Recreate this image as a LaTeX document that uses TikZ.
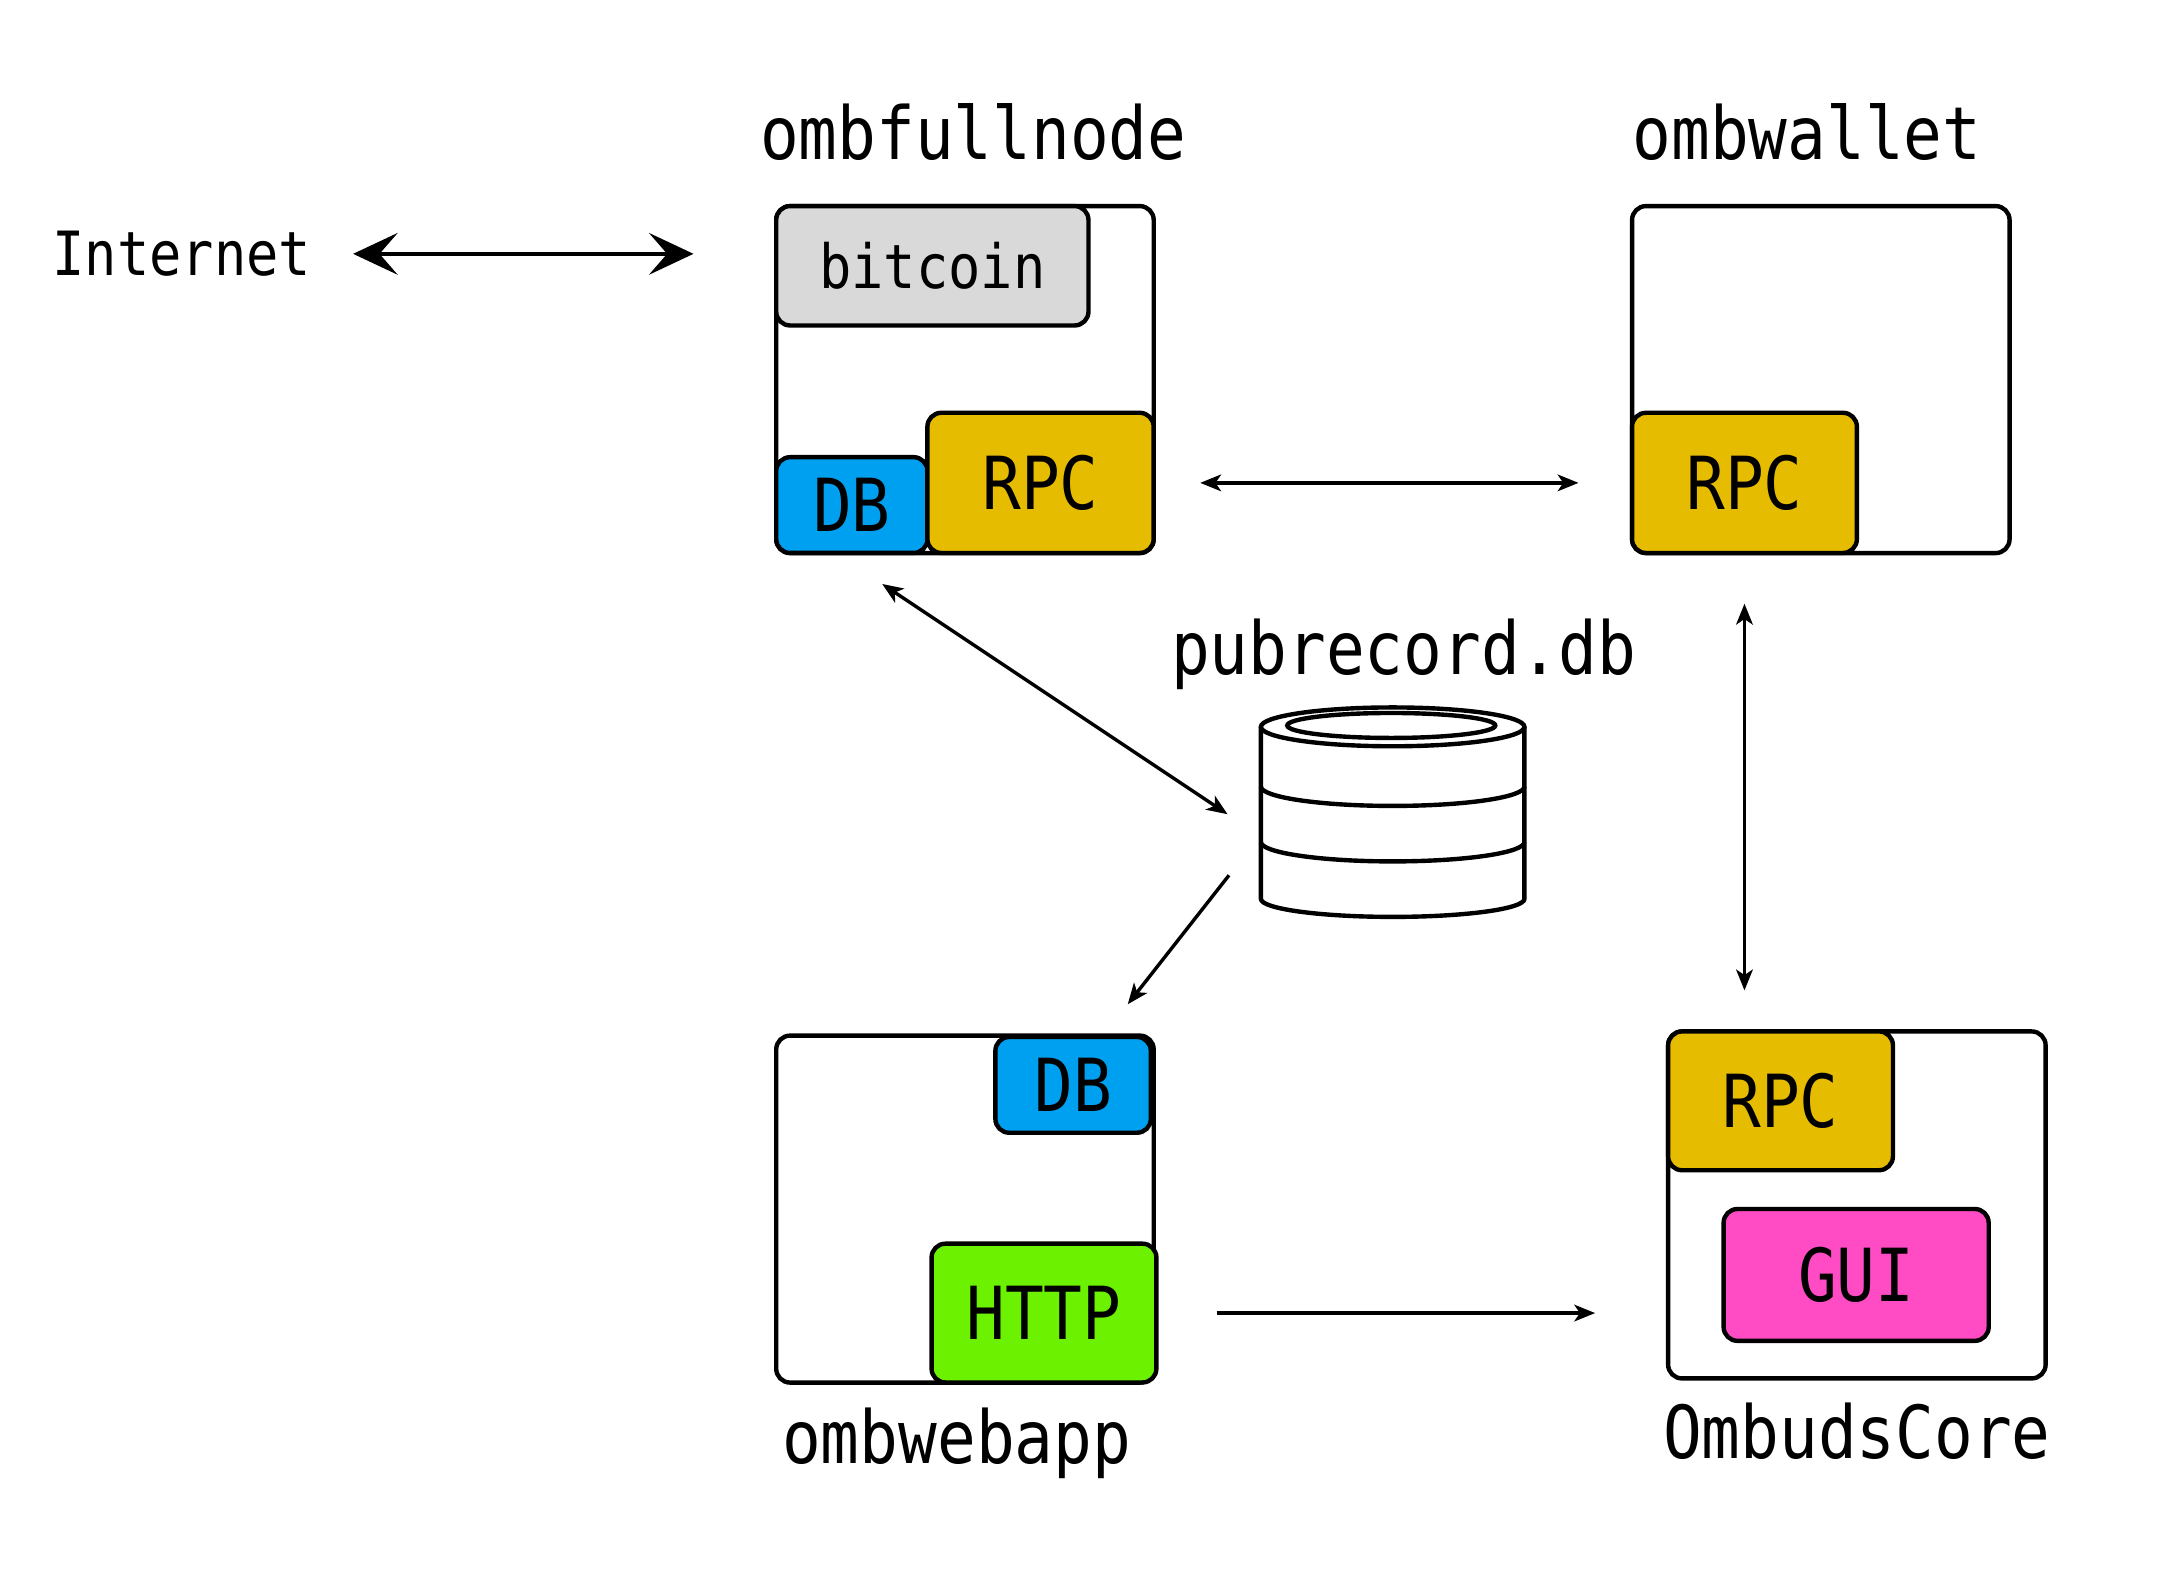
\documentclass[tikz,border=0pt]{standalone}
\usepackage{fontspec}
\setmonofont[FakeStretch=0.88]{DejaVu Sans Mono}
\usetikzlibrary{positioning,arrows.meta}
\definecolor{btcgray}{HTML}{D9D9D9}
\definecolor{dbblue}{HTML}{00A0F0}
\definecolor{rpcgold}{HTML}{E6BC00}
\definecolor{httpgreen}{HTML}{6CF200}
\definecolor{guipink}{HTML}{FF4BC4}
\begin{document}
\begin{tikzpicture}[x=0.01cm,y=-0.01cm,
    big/.style={font=\ttfamily\fontsize{15}{18}\selectfont},
    small/.style={font=\ttfamily\fontsize{12.5}{15}\selectfont},
    proc/.style={draw,line width=0.9pt,rounded corners=0.1cm,anchor=north west,inner sep=0pt,minimum width=2.72cm,minimum height=2.5cm},
    part/.style={draw,line width=0.9pt,rounded corners=0.1cm,anchor=north west,inner sep=0pt,big},
    link/.style={line width=0.7pt,>={Stealth[length=0.15cm,width=0.12cm,inset=0.04cm]}},
    wide/.style={line width=0.9pt,>={Stealth[length=0.32cm,width=0.3cm,inset=0.13cm]}}]
    \useasboundingbox (0,0) rectangle (1568,1135.4);
    % processes
    \node[proc](fnode) at (558,147){};
    \node[proc](wnode) at (1175,147){};
    \node[proc](anode) at (558,745){};
    \node[proc](cnode) at (1201,742){};
    % parts
    \node[part,fill=btcgray,small,minimum width=2.25cm,minimum height=0.86cm](btc) at (558,147){bitcoin};
    \node[part,fill=dbblue,minimum width=1.09cm,minimum height=0.69cm](fdb) at (558,328){DB};
    \node[part,fill=rpcgold,minimum width=1.63cm,minimum height=1.01cm](frpc) at (667,296){RPC};
    \node[part,fill=rpcgold,minimum width=1.62cm,minimum height=1.01cm](wrpc) at (1175,296){RPC};
    \node[part,fill=dbblue,minimum width=1.12cm,minimum height=0.69cm](adb) at (716,746){DB};
    \node[part,fill=httpgreen,minimum width=1.62cm,minimum height=1.0cm](http) at (670,895){HTTP};
    \node[part,fill=rpcgold,minimum width=1.62cm,minimum height=1.0cm](crpc) at (1201,742){RPC};
    \node[part,fill=guipink,minimum width=1.91cm,minimum height=0.95cm](gui) at (1241,870){GUI};
    % labels
    \node[big](flabel)[above=0.19cm of fnode,xshift=0.06cm]{ombfullnode};
    \node[big](wlabel)[above=0.19cm of wnode,xshift=-0.1cm]{ombwallet};
    \node[big](alabel)[below=0.04cm of anode,xshift=-0.06cm]{ombwebapp};
    \node[big](clabel)[below=0.04cm of cnode]{OmbudsCore};
    \node[small](inet) at (131,183){Internet};
    \node[big](pubdb) at (1012,472){pubrecord.db};
    % database
    \draw[line width=0.9pt] (1004,524) ellipse [x radius=95,y radius=14];
    \draw[line width=0.9pt] (1003,523) ellipse [x radius=75,y radius=9];
    \draw[line width=0.9pt] (909,524) -- (909,648) arc[start angle=180,end angle=0,x radius=95,y radius=13] -- (1099,524);
    \draw[line width=0.9pt] (909,567) arc[start angle=180,end angle=0,x radius=95,y radius=14];
    \draw[line width=0.9pt] (909,607) arc[start angle=180,end angle=0,x radius=95,y radius=14];
    \coordinate (dbtop) at (636,421);
    \coordinate (dbin) at (885,587);
    \coordinate (dbout) at (886,631);
    \coordinate (appin) at (813,724);
    % connections
    \draw[wide,<->](inet.east) -- (inet.east -| fnode.west) [shorten <=0.18cm,shorten >=0.58cm];
    \draw[link,<->](frpc.east) -- (wrpc.west) [shorten <=0.32cm,shorten >=0.37cm];
    \draw[link,<->](dbtop) -- (dbin);
    \draw[link,->](dbout) -- (appin);
    \draw[link,<->](wrpc.south) -- (wrpc.south |- cnode.north) [shorten <=0.35cm,shorten >=0.28cm];
    \draw[link,->](http.east) -- (http.east -| cnode.west) [shorten <=0.42cm,shorten >=0.51cm];
\end{tikzpicture}
\end{document}
